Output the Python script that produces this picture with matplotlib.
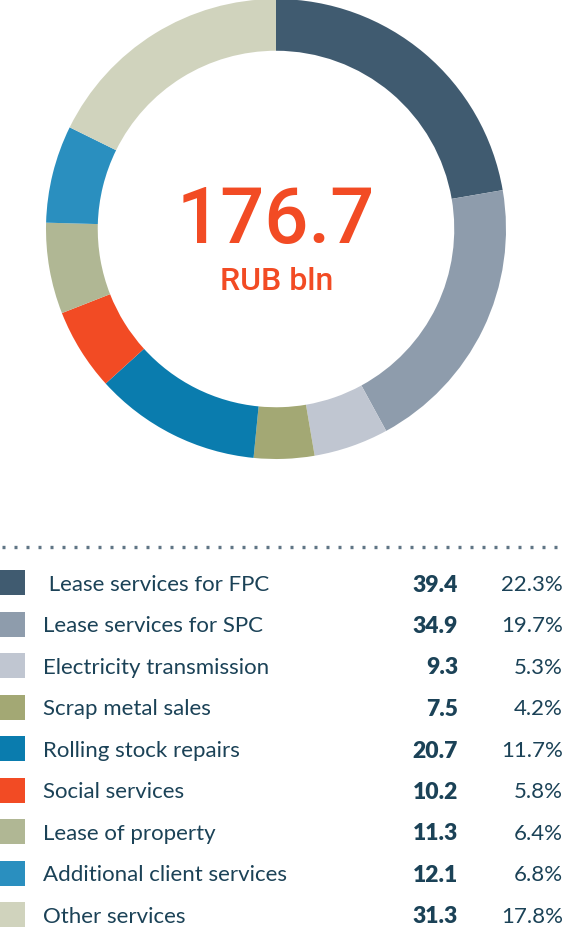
import matplotlib
matplotlib.use('Agg')
import matplotlib.pyplot as plt
from matplotlib.lines import Line2D

# data
categories = ['Lease services for FPC', 'Lease services for SPC', 'Electricity transmission',
              'Scrap metal sales', 'Rolling stock repairs', 'Social services',
              'Lease of property', 'Additional client services', 'Other services']
values = [39.4, 34.9, 9.3, 7.5, 20.7, 10.2, 11.3, 12.1, 31.3]
shares = ['22.3%', '19.7%', '5.3%', '4.2%', '11.7%', '5.8%', '6.4%', '6.8%', '17.8%']
colors = ['#405b70', '#8e9cac', '#c0c6d1', '#a3a874', '#0a7cae',
          '#f24b24', '#b0b794', '#2a8fbf', '#d0d3bd']
total_label = '176.7'
unit_label = 'RUB bln'

W, H = 565, 928
fig = plt.figure(figsize=(W / 100, H / 100), dpi=100)

def px(x, y):
    return x / W, 1 - y / H

# donut
cx, cy, r = 276, 230, 230
ax = fig.add_axes([(cx - r) / W, 1 - (cy + r) / H, 2 * r / W, 2 * r / H])
ax.pie(values, colors=colors, startangle=90, counterclock=False, radius=1,
       wedgeprops=dict(width=0.225, linewidth=0))
ax.set_xlim(-1, 1)
ax.set_ylim(-1, 1)
ax.set_aspect('auto')
ax.axis('off')

red = '#f24b24'
fig.text(*px(276, 221), total_label, ha='center', va='center', color=red,
         fontsize=56, family='Roboto', fontweight='medium')
fig.text(*px(277, 282), unit_label, ha='center', va='center', color=red,
         fontsize=23, family='Roboto', fontweight='medium')

# dotted line
fig.add_artist(Line2D([2 / W, 1], [1 - 548 / H] * 2, transform=fig.transFigure,
                      color='#5f7585', linestyle=(0, (0.9, 2.7)), linewidth=2.4,
                      dash_capstyle='butt'))

# legend table
navy = '#1b4257'
y0, step = 585, 41.5
for i, (cat, val, sh, col) in enumerate(zip(categories, values, shares, colors)):
    y = y0 + i * step
    fig.add_artist(plt.Rectangle(px(0, y + 11), 25 / W, 25 / H,
                                 transform=fig.transFigure, color=col, lw=0))
    fig.text(*px(43, y), (' ' if i == 0 else '') + cat, ha='left', va='center',
             color=navy, fontsize=16, family='Lato')
    fig.text(*px(458, y), f'{val:.1f}', ha='right', va='center',
             color=navy, fontsize=16.5, family='Lato', fontweight='heavy')
    fig.text(*px(563, y), sh, ha='right', va='center',
             color=navy, fontsize=16, family='Lato')

fig.savefig('out.png', dpi=100)
